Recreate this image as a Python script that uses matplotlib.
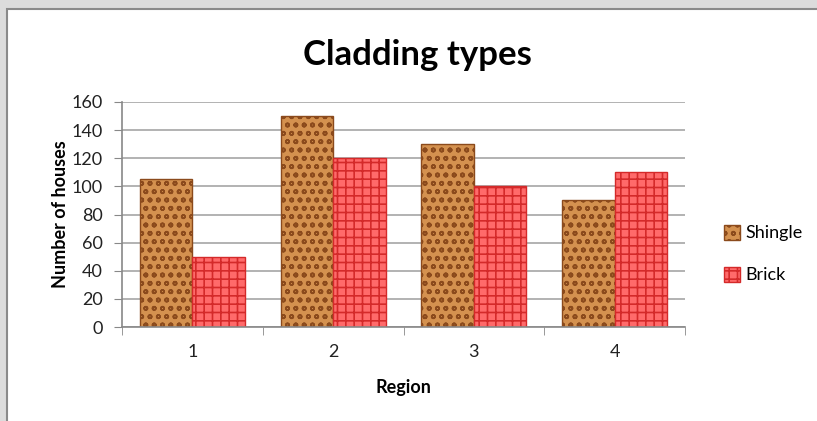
import matplotlib
matplotlib.use("Agg")
import numpy as np
from matplotlib import pyplot as plt
from matplotlib.patches import Rectangle

# data
regions = ["1", "2", "3", "4"]
shingle = [105, 150, 130, 90]
brick = [50, 120, 100, 110]
y_ticks = [0, 20, 40, 60, 80, 100, 120, 140, 160]

plt.rcParams['font.family'] = ['Lato', 'DejaVu Sans']
plt.rcParams['hatch.linewidth'] = 1.2

fig = plt.figure(figsize=(8.17, 4.21), dpi=100, facecolor='#dcdcdc')

# white chart frame with grey border (window look)
fig.patches.append(Rectangle((7 / 817, -0.01), 1, 1.01 - 9 / 421, transform=fig.transFigure,
                             facecolor='white', edgecolor='#8a8a8a', linewidth=1.5, zorder=-5))

ax = fig.add_axes([122 / 817, 1 - 327 / 421, 563 / 817, 225 / 421])
ax.set_facecolor('none')

x = np.arange(len(regions))
w = 0.373
ax.bar(x - w / 2, shingle, w, color='#d4914f', edgecolor='#8b4a1c', hatch='oo',
       linewidth=1, label='Shingle', zorder=2)
ax.bar(x + w / 2, brick, w, color='#ff6a6a', edgecolor='#d42a2a', hatch='++',
       linewidth=1, label='Brick', zorder=2)

ax.set_xlim(-0.5, len(regions) - 0.5)
ax.set_ylim(0, 160)
ax.set_yticks(y_ticks)
ax.set_xticks(x)
ax.set_xticklabels(regions)
ax.set_xticks(np.arange(-0.5, len(regions)), minor=True)
ax.tick_params(axis='x', which='major', length=0, labelsize=13, pad=12, labelcolor='#222222')
ax.tick_params(axis='x', which='minor', length=6, color='#888888')
ax.tick_params(axis='y', length=6, pad=8, color='#888888', labelsize=13, labelcolor='#222222')

ax.grid(axis='y', color='#a6a6a6', linewidth=1.2, zorder=0)
ax.set_axisbelow(True)
for s in ['top', 'right']:
    ax.spines[s].set_visible(False)
for s in ['left', 'bottom']:
    ax.spines[s].set_color('#888888')
    ax.spines[s].set_linewidth(1.2)

ax.set_ylabel('Number of houses', fontsize=13, fontweight='bold', labelpad=2)
ax.set_xlabel('Region', fontsize=13, fontweight='bold', labelpad=14)
fig.text(417 / 817, 1 - 55 / 421, 'Cladding types', fontsize=25, fontweight='bold',
         ha='center', va='center')

ax.legend(loc='center left', bbox_to_anchor=(1.04, 0.325), frameon=False, fontsize=13,
          handlelength=0.9, handleheight=0.9, handletextpad=0.3, labelspacing=1.4)

fig.savefig('out.png', dpi=100, facecolor=fig.get_facecolor())
